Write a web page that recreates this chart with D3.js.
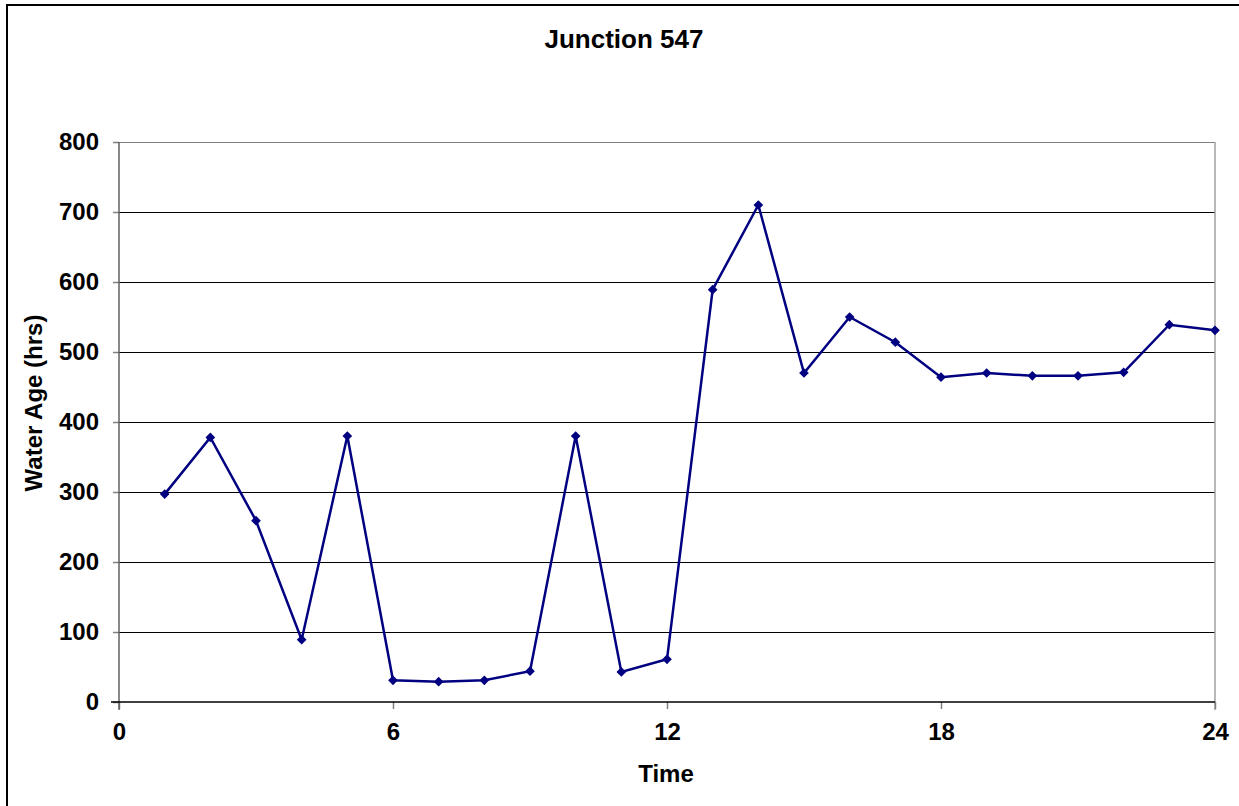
<!DOCTYPE html>
<html><head><meta charset="utf-8">
<script src="https://cdn.jsdelivr.net/npm/d3@7"></script>
<style>body{margin:0;background:#fff}svg{display:block}text{font-family:"Liberation Sans",Arial,sans-serif;font-weight:bold}</style>
</head><body>
<script>
const title = "Junction 547";
const xLabel = "Time";
const yLabel = "Water Age (hrs)";
const times = [1,2,3,4,5,6,7,8,9,10,11,12,13,14,15,16,17,18,19,20,21,22,23,24];
const ages = [297,378,259,89,380,31,29,31,44,380,43,61,589,710,470,550,514,464,470,466,466,471,539,531];
const xTicks = [0,6,12,18,24];
const yTicks = [0,100,200,300,400,500,600,700,800];

const W=1239,H=806;
const svg=d3.select("body").append("svg").attr("width",W).attr("height",H);
svg.append("rect").attr("x",7).attr("y",5).attr("width",W).attr("height",H).attr("fill","none").attr("stroke","#000").attr("stroke-width",2);
const L=119,R=1215,T=142,B=702;
const x=d3.scaleLinear().domain([0,24]).range([L,R]);
const y=d3.scaleLinear().domain([0,800]).range([B,T]);
// gridlines
svg.append("g").selectAll("line").data(yTicks.filter(d=>d>0)).join("line")
 .attr("x1",L).attr("x2",R).attr("y1",d=>y(d)).attr("y2",d=>y(d))
 .attr("stroke",d=>d===800?"#808080":"#000").attr("stroke-width",1).attr("shape-rendering","crispEdges");
// right border
svg.append("line").attr("x1",R).attr("x2",R).attr("y1",T).attr("y2",B+8).attr("stroke","#a0a0a0").attr("stroke-width",1.5);
// axes
const yAxis=svg.append("g").attr("transform",`translate(${L},0)`).call(d3.axisLeft(y).tickValues(yTicks).tickSize(6).tickPadding(14));
const xAxis=svg.append("g").attr("transform",`translate(0,${B})`).call(d3.axisBottom(x).tickValues(xTicks).tickSize(7).tickPadding(14));
[yAxis,xAxis].forEach(a=>{a.select(".domain").remove();a.selectAll(".tick line").attr("stroke","#808080").attr("stroke-width",1.5);a.selectAll("text").attr("font-size",24).attr("fill","#000").attr("font-family","Liberation Sans, Arial, sans-serif").attr("font-weight","bold");});
svg.append("line").attr("x1",L).attr("x2",L).attr("y1",T).attr("y2",B+8).attr("stroke","#606060").attr("stroke-width",1.5);
svg.append("line").attr("x1",L-8).attr("x2",R).attr("y1",B).attr("y2",B).attr("stroke","#000").attr("stroke-width",1.5);
// line
const line=d3.line().x((d,i)=>x(times[i])).y(d=>y(d));
svg.append("path").datum(ages).attr("d",line).attr("fill","none").attr("stroke","#000080").attr("stroke-width",2.5);
svg.append("g").selectAll("path").data(ages).join("path")
 .attr("d",d3.symbol(d3.symbolDiamond2? d3.symbolDiamond2: d3.symbolDiamond,60))
 .attr("transform",(d,i)=>`translate(${x(times[i])},${y(d)})`).attr("fill","#000080");
// titles
svg.append("text").attr("x",624).attr("y",48).attr("text-anchor","middle").attr("font-size",26).text(title);
svg.append("text").attr("x",666).attr("y",782).attr("text-anchor","middle").attr("font-size",24).text(xLabel);
svg.append("text").attr("transform","translate(42,403) rotate(-90)").attr("text-anchor","middle").attr("font-size",24).text(yLabel);
</script>
</body></html>
